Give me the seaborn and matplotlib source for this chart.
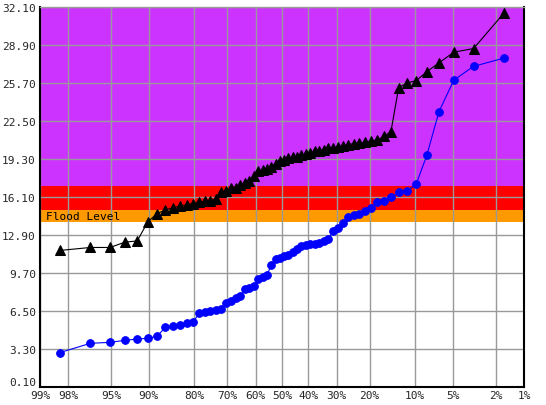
import numpy as np
import matplotlib
matplotlib.use("Agg")
import matplotlib.pyplot as plt
import matplotlib.transforms as mtransforms
import seaborn as sns
from statistics import NormalDist

# exceedance probability (%) for each ranked value, smallest value first
exceed_pct = [98.36, 96.72, 95.08, 93.44, 91.80, 90.16, 88.52, 86.89, 85.25, 83.61,
              81.97, 80.33, 78.69, 77.05, 75.41, 73.77, 72.13, 70.49, 68.85, 67.21,
              65.57, 63.93, 62.30, 60.66, 59.02, 57.38, 55.74, 54.10, 52.46, 50.82,
              49.18, 47.54, 45.90, 44.26, 42.62, 40.98, 39.34, 37.70, 36.07, 34.43,
              32.79, 31.15, 29.51, 27.87, 26.23, 24.59, 22.95, 21.31, 19.67, 18.03,
              16.39, 14.75, 13.11, 11.48, 9.84, 8.20, 6.56, 4.92, 3.28, 1.64]

upper_vals = [11.6, 11.85, 11.85, 12.3, 12.4, 14.0, 14.7, 15.0, 15.2, 15.35,
              15.45, 15.55, 15.65, 15.75, 15.8, 15.95, 16.5, 16.6, 16.9, 16.9,
              17.1, 17.3, 17.45, 17.85, 18.25, 18.4, 18.45, 18.65, 18.9, 19.1,
              19.2, 19.35, 19.45, 19.5, 19.65, 19.7, 19.8, 19.95, 20.0, 20.1,
              20.2, 20.2, 20.3, 20.4, 20.5, 20.6, 20.65, 20.7, 20.8, 20.9,
              21.2, 21.6, 25.3, 25.7, 25.9, 26.65, 27.4, 28.3, 28.6, 31.6]

lower_vals = [3.0, 3.78, 3.86, 4.03, 4.14, 4.2, 4.37, 5.13, 5.26, 5.3,
              5.46, 5.6, 6.3, 6.4, 6.5, 6.55, 6.65, 7.2, 7.35, 7.6,
              7.75, 8.35, 8.45, 8.6, 9.2, 9.35, 9.5, 10.4, 10.85, 11.0,
              11.1, 11.25, 11.45, 11.7, 12.0, 12.1, 12.15, 12.15, 12.25, 12.4,
              12.6, 13.2, 13.45, 13.9, 14.4, 14.55, 14.7, 14.95, 15.2, 15.65,
              15.75, 16.1, 16.5, 16.6, 17.2, 19.6, 23.3, 25.95, 27.1, 27.8]

x_ticks = [99, 98, 95, 90, 80, 70, 60, 50, 40, 30, 20, 10, 5, 2, 1]
y_ticks = [0.10, 3.30, 6.50, 9.70, 12.90, 16.10, 19.30, 22.50, 25.70, 28.90, 32.10]

# stage bands: (bottom, top, colour)
bands = [(14.0, 15.0, "#FF9900"), (15.0, 17.0, "#FF0000"), (17.0, 32.1, "#CC33FF")]

_nd = NormalDist()
_fwd = np.vectorize(lambda v: _nd.inv_cdf(v / 100.0), otypes=[float])
_inv = np.vectorize(lambda v: 100.0 * _nd.cdf(v), otypes=[float])


def prob_fwd(p):
    p = np.clip(np.asarray(p, dtype=float), 1e-6, 100 - 1e-6)
    return _fwd(p)


def prob_inv(z):
    return _inv(np.asarray(z, dtype=float))


sns.set_style("white")
plt.rcParams["font.family"] = ["DejaVu Sans Mono"]

fig = plt.figure(figsize=(5.46, 4.06), dpi=100)
ax = fig.add_axes([40 / 546, 18 / 406, 484 / 546, 380 / 406])
ax.set_xscale("function", functions=(prob_fwd, prob_inv))

for lo, hi, col in bands:
    ax.axhspan(lo, hi, color=col, zorder=0.2, lw=0)

df_up = {"p": exceed_pct, "v": upper_vals}
df_lo = {"p": exceed_pct, "v": lower_vals}
sns.lineplot(x="p", y="v", data=df_up, ax=ax, color="black", marker="^",
             markersize=6.5, markeredgecolor="black", linewidth=0.8, sort=False, zorder=3)
sns.lineplot(x="p", y="v", data=df_lo, ax=ax, color="#0000FF", marker="o",
             markersize=5.5, markeredgecolor="#0000FF", linewidth=0.8, sort=False, zorder=3)

ax.set_xlim(99, 1)
ax.set_ylim(0.1, 32.1)
ax.set_xticks(x_ticks)
ax.set_xticklabels([f"{t}%" for t in x_ticks])
ax.set_yticks(y_ticks)
ax.set_yticklabels([f"{t:.2f}" for t in y_ticks])
ax.xaxis.set_minor_locator(matplotlib.ticker.NullLocator())
ax.tick_params(length=0, labelsize=8, pad=3)
ax.tick_params(axis="x", pad=2.5)
ax.set_xlabel("")
ax.set_ylabel("")

# lift the bottom y label a little so it clears the x labels
lift = mtransforms.ScaledTranslation(0, 4 / 72, fig.dpi_scale_trans)
bottom_lab = ax.get_yticklabels()[0]
bottom_lab.set_transform(bottom_lab.get_transform() + lift)

ax.set_axisbelow(True)
ax.grid(True, color="#999999", linewidth=1.0)

for side in ["left", "bottom", "right"]:
    ax.spines[side].set_color("black")
    ax.spines[side].set_linewidth(1.5)
ax.spines["top"].set_color("#999999")
ax.spines["top"].set_linewidth(1.0)

ax.text(0.012, 14.5, "Flood Level", transform=ax.get_yaxis_transform(),
        fontsize=8, va="center", ha="left", color="black", zorder=4)

fig.savefig("out.png", dpi=100)
